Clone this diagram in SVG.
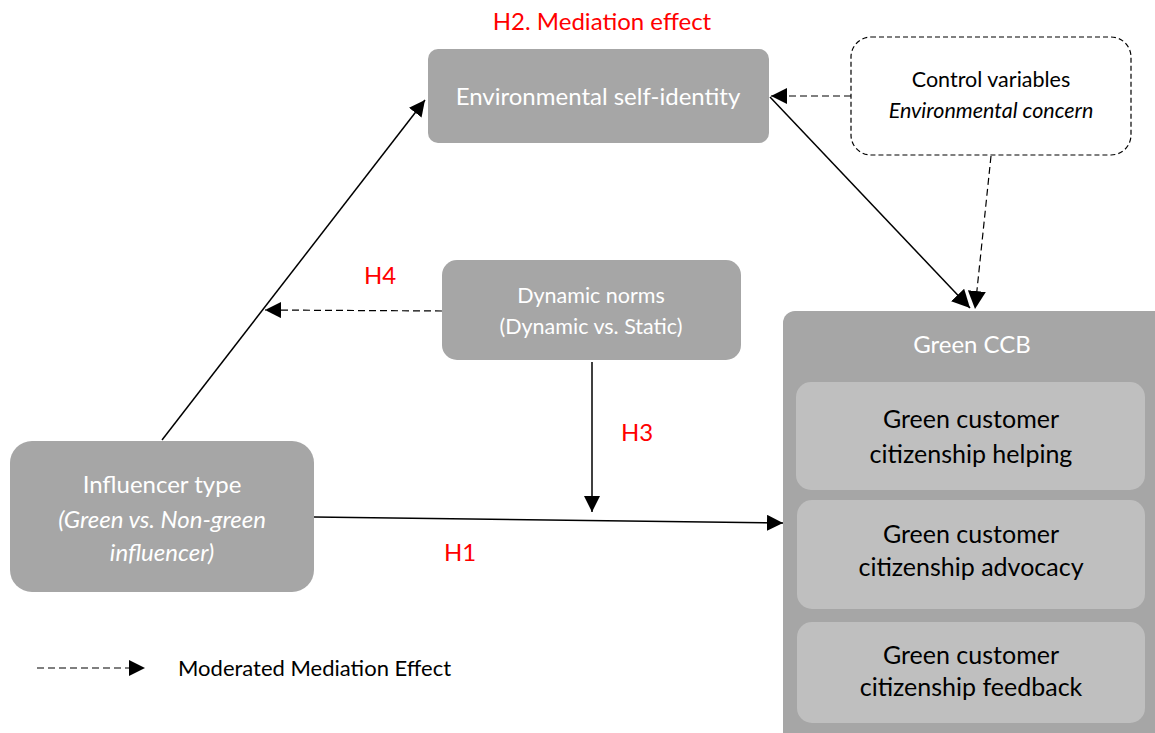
<svg xmlns="http://www.w3.org/2000/svg" width="1155" height="733" viewBox="0 0 1155 733">
<style>
text{font-family:Lato,"Open Sans","Liberation Sans",sans-serif;text-anchor:middle}
.box{fill:#a6a6a6}
.inner{fill:#bfbfbf}
.w{fill:#fff}
.k{fill:#000}
.red{fill:#ff0000;font-size:24px}
.solid{stroke:#000;stroke-width:1.5;fill:none}
.dash{stroke:#000;stroke-width:1.2;fill:none;stroke-dasharray:7,4}
.it{font-style:italic}
</style>
<defs>
<marker id="arr" viewBox="0 0 10 10" refX="10" refY="5" markerWidth="16" markerHeight="16" markerUnits="userSpaceOnUse" orient="auto"><path d="M0,0L10,5L0,10z" fill="#000"/></marker>
<marker id="arrB" viewBox="0 0 10 10" refX="10" refY="5" markerWidth="18" markerHeight="18" markerUnits="userSpaceOnUse" orient="auto"><path d="M0,0L10,5L0,10z" fill="#000"/></marker>
</defs>
<rect width="1155" height="733" fill="#fff"/>
<g id="connectors">
<line class="solid" x1="162" y1="440" x2="425" y2="100" marker-end="url(#arr)"/>
<line class="solid" x1="770" y1="97" x2="970" y2="308" marker-end="url(#arrB)"/>
<line class="dash" x1="851" y1="96" x2="771" y2="96" marker-end="url(#arr)"/>
<line class="dash" x1="991" y1="156" x2="975" y2="309" marker-end="url(#arrB)"/>
<line class="dash" x1="442" y1="311" x2="265" y2="310" marker-end="url(#arr)"/>
<line class="solid" x1="314" y1="517" x2="783" y2="523" marker-end="url(#arr)"/>
<line class="solid" x1="592" y1="362" x2="592" y2="512" marker-end="url(#arr)"/>
<line class="dash" x1="37" y1="668" x2="145" y2="668" marker-end="url(#arr)"/>
</g>
<text class="red" x="602" y="30">H2. Mediation effect</text>
<text class="red" x="380" y="284">H4</text>
<text class="red" x="637" y="441">H3</text>
<text class="red" x="460" y="561">H1</text>
<g id="env">
<rect class="box" x="428" y="49" width="341" height="94" rx="10"/>
<text class="w" x="598" y="105" font-size="24">Environmental self-identity</text>
</g>
<g id="control">
<rect x="851" y="37" width="280" height="118" rx="20" fill="#fff" stroke="#000" stroke-width="1.2" stroke-dasharray="5,3"/>
<text class="k" x="991" y="87" font-size="21.5">Control variables</text>
<text class="k it" x="991" y="118" font-size="21.5">Environmental concern</text>
</g>
<g id="dynamic">
<rect class="box" x="442" y="260" width="299" height="100" rx="15"/>
<text class="w" x="591" y="303" font-size="21.5">Dynamic norms</text>
<text class="w" x="591" y="334" font-size="21.5">(Dynamic vs. Static)</text>
</g>
<g id="influencer">
<rect class="box" x="10" y="441" width="304" height="151" rx="22"/>
<text class="w" x="162" y="493" font-size="24">Influencer type</text>
<text class="w it" x="162" y="528" font-size="24">(Green vs. Non-green</text>
<text class="w it" x="162" y="561" font-size="24">influencer)</text>
</g>
<g id="ccb">
<rect class="box" x="783" y="311" width="385" height="440" rx="12"/>
<text class="w" x="972" y="353" font-size="24">Green CCB</text>
<rect class="inner" x="796" y="382" width="349" height="108" rx="15"/>
<text class="k" x="971" y="428" font-size="25">Green customer</text>
<text class="k" x="971" y="463" font-size="25">citizenship helping</text>
<rect class="inner" x="797" y="500" width="348" height="109" rx="15"/>
<text class="k" x="971" y="543" font-size="25">Green customer</text>
<text class="k" x="971" y="576" font-size="25">citizenship advocacy</text>
<rect class="inner" x="797" y="622" width="348" height="101" rx="15"/>
<text class="k" x="971" y="664" font-size="25">Green customer</text>
<text class="k" x="971" y="696" font-size="25">citizenship feedback</text>
</g>
<g id="legend">
<text class="k" x="178" y="676" font-size="22" style="text-anchor:start">Moderated Mediation Effect</text>
</g>
</svg>
